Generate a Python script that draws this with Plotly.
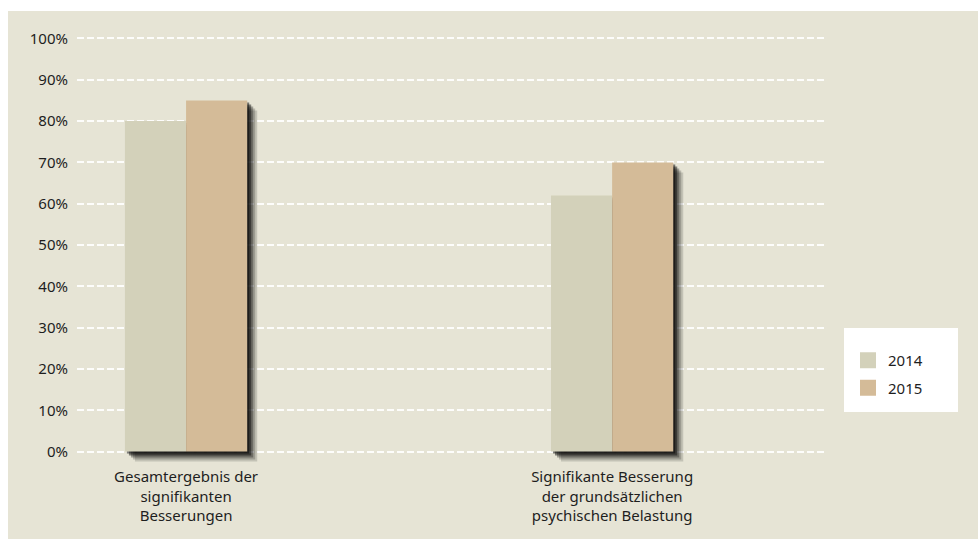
import plotly.graph_objects as go

# ---------------- data ----------------
categories = [
    "Gesamtergebnis der<br>signifikanten<br>Besserungen",
    "Signifikante Besserung<br>der grundsätzlichen<br>psychischen Belastung",
]
series_names = ["2014", "2015"]
values_2014 = [80, 62]
values_2015 = [85, 70]
y_tick_values = [0, 10, 20, 30, 40, 50, 60, 70, 80, 90, 100]
y_tick_labels = [f"{v}%" for v in y_tick_values]

# ---------------- style / layout constants ----------------
W, H = 978, 539
BG = "#e6e4d5"
COL_2014 = "#d3d1ba"
COL_2015 = "#d4bb98"
FONT = "Noto Sans"
TXT = "#1e1e1e"

PLOT_L, PLOT_R = 77, 826
PLOT_T, PLOT_B = 31, 464
X_RANGE = [-0.256, 1.502]
Y_RANGE = [-3, 101.8]
BAR_W = 0.1435

px_per_x = (PLOT_R - PLOT_L) / (X_RANGE[1] - X_RANGE[0])
px_per_y = (PLOT_B - PLOT_T) / (Y_RANGE[1] - Y_RANGE[0])


def paper_x(px):
    return (px - PLOT_L) / (PLOT_R - PLOT_L)


def paper_y(py):
    return (PLOT_B - py) / (PLOT_B - PLOT_T)


fig = go.Figure()

series = [(series_names[0], values_2014, COL_2014, -BAR_W),
          (series_names[1], values_2015, COL_2015, 0.0)]

# soft drop shadows (several offset layers)
for k, opac in [(10, 0.15), (8, 0.2), (6, 0.3), (4, 0.45), (2, 0.5)]:
    dx = k / px_per_x
    dy = k / px_per_y
    for name, vals, col, off in series:
        fig.add_trace(go.Bar(
            x=categories, y=vals, base=-dy, offset=off + dx, width=BAR_W,
            marker=dict(color="#000000", line=dict(width=0)), opacity=opac,
            showlegend=False, hoverinfo="skip",
        ))

for i, (name, vals, col, off) in enumerate(series):
    fig.add_trace(go.Bar(
        x=categories, y=vals, name=name, offset=off, width=BAR_W,
        marker=dict(color=col, line=dict(width=0)),
        showlegend=False,
    ))
    # legend entry with a larger square swatch
    fig.add_trace(go.Scatter(
        x=[None], y=[None], name=name, mode="markers",
        marker=dict(symbol="square", size=16, color=col),
        legendgroup=f"g{i}",
    ))

fig.update_layout(
    width=W, height=H,
    margin=dict(l=PLOT_L, r=W - PLOT_R, t=PLOT_T, b=H - PLOT_B, pad=0),
    paper_bgcolor=BG, plot_bgcolor=BG,
    barmode="overlay",
    font=dict(family=FONT, size=15, color=TXT),
    showlegend=True,
    legend=dict(
        x=paper_x(848), y=paper_y(344), xanchor="left", yanchor="top",
        bgcolor="rgba(0,0,0,0)", borderwidth=0,
        font=dict(family=FONT, size=15, color=TXT),
        tracegroupgap=5,
    ),
    shapes=[
        # white page strips (top and left)
        dict(type="rect", xref="paper", yref="paper",
             x0=paper_x(0), x1=paper_x(W), y0=paper_y(11), y1=paper_y(0),
             fillcolor="white", line=dict(width=0), layer="above"),
        dict(type="rect", xref="paper", yref="paper",
             x0=paper_x(0), x1=paper_x(8), y0=paper_y(H), y1=paper_y(0),
             fillcolor="white", line=dict(width=0), layer="above"),
        # legend box
        dict(type="rect", xref="paper", yref="paper",
             x0=paper_x(844), x1=paper_x(958), y0=paper_y(412), y1=paper_y(328),
             fillcolor="white", line=dict(width=0), layer="above"),
    ],
)

fig.update_xaxes(
    type="category", range=X_RANGE, showgrid=False, zeroline=False,
    showline=False, ticks="", tickfont=dict(family=FONT, size=15, color=TXT),
    ticklabelstandoff=2, fixedrange=True,
)
fig.update_yaxes(
    range=Y_RANGE, tickvals=y_tick_values, ticktext=y_tick_labels,
    showgrid=True, gridcolor="rgba(255,255,255,0.9)", gridwidth=1.5,
    griddash="7px,3px", zeroline=False, showline=False, ticks="",
    ticklabelstandoff=8, tickfont=dict(family=FONT, size=15, color=TXT),
    fixedrange=True,
)

fig.write_html("out.html")
